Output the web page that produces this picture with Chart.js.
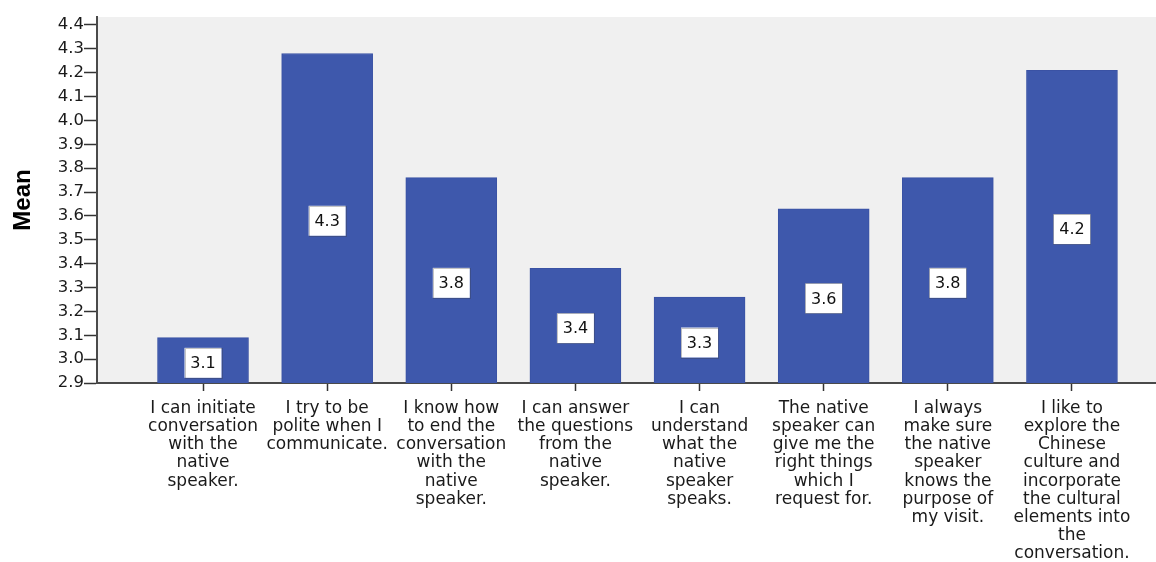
<!DOCTYPE html>
<html>
<head>
<meta charset="utf-8">
<script src="https://cdn.jsdelivr.net/npm/chart.js@4/dist/chart.umd.min.js"></script>
<style>
    html, body { margin: 0; padding: 0; background: #fff; }
    #wrap { width: 1156px; height: 562px; }
</style>
</head>
<body>
<div id="wrap"><canvas id="mean-chart"></canvas></div>
<script>
const categories = [
    ['I can initiate', 'conversation', 'with the', 'native', 'speaker.'],
    ['I try to be', 'polite when I', 'communicate.'],
    ['I know how', 'to end the', 'conversation', 'with the', 'native', 'speaker.'],
    ['I can answer', 'the questions', 'from the', 'native', 'speaker.'],
    ['I can', 'understand', 'what the', 'native', 'speaker', 'speaks.'],
    ['The native', 'speaker can', 'give me the', 'right things', 'which I', 'request for.'],
    ['I always', 'make sure', 'the native', 'speaker', 'knows the', 'purpose of', 'my visit.'],
    ['I like to', 'explore the', 'Chinese', 'culture and', 'incorporate', 'the cultural', 'elements into', 'the', 'conversation.']
];
const means = [3.09, 4.28, 3.76, 3.38, 3.26, 3.63, 3.76, 4.21];
const yTicks = [2.9, 3.0, 3.1, 3.2, 3.3, 3.4, 3.5, 3.6, 3.7, 3.8, 3.9, 4.0, 4.1, 4.2, 4.3, 4.4];

const FONT = "'DejaVu Sans', Verdana, sans-serif";

const plotBackground = {
    id: 'plotBackground',
    beforeDraw: function (chart) {
        const a = chart.chartArea;
        const ctx = chart.ctx;
        ctx.save();
        ctx.fillStyle = '#f0f0f0';
        ctx.fillRect(a.left, a.top, a.right - a.left, a.bottom - a.top);
        ctx.restore();
    }
};

// white value boxes in the middle of each bar
const valueBoxes = {
    id: 'valueBoxes',
    afterDatasetsDraw: function (chart) {
        const ctx = chart.ctx;
        const xs = chart.scales.x;
        const ys = chart.scales.y;
        const base = ys.getPixelForValue(ys.min);
        ctx.save();
        ctx.font = '16px ' + FONT;
        ctx.textAlign = 'center';
        ctx.textBaseline = 'middle';
        means.forEach(function (v, i) {
            const text = v.toFixed(1);
            const cx = xs.getPixelForValue(i);
            const cy = (ys.getPixelForValue(v) + base) / 2 + 2.5;
            const w = 37;
            const h = 30;
            ctx.fillStyle = '#ffffff';
            ctx.fillRect(cx - w / 2, cy - h / 2, w, h);
            ctx.strokeStyle = 'rgba(60,60,60,0.3)';
            ctx.lineWidth = 1;
            ctx.strokeRect(Math.round(cx - w / 2) + 0.5, Math.round(cy - h / 2) + 0.5, w, h);
            ctx.fillStyle = '#111';
            ctx.fillText(text, cx, cy + 1);
        });
        ctx.restore();
    }
};

new Chart(document.getElementById('mean-chart').getContext('2d'), {
    type: 'bar',
    plugins: [plotBackground, valueBoxes],
    data: {
        datasets: [{
            data: means.map((v, i) => ({ x: i, y: v })),
            backgroundColor: '#3e58ac',
            borderColor: '#3a52a4',
            borderWidth: 1,
            barThickness: 91
        }]
    },
    options: {
        responsive: true,
        maintainAspectRatio: false,
        animation: false,
        layout: { padding: { top: 17, right: 0, left: 0, bottom: 0 } },
        plugins: {
            legend: { display: false },
            title: { display: false },
            tooltip: { enabled: false }
        },
        scales: {
            x: {
                type: 'linear',
                offset: false,
                min: -0.854,
                max: 7.677,
                afterBuildTicks: function (scale) {
                    scale.ticks = categories.map((c, i) => ({ value: i }));
                },
                afterFit: function (scale) {
                    scale.height = 179;
                },
                border: { color: '#4a4a4a', width: 2 },
                grid: {
                    offset: false,
                    drawOnChartArea: false,
                    drawTicks: true,
                    tickLength: 8,
                    tickColor: '#333',
                    tickWidth: 1.5
                },
                ticks: {
                    autoSkip: false,
                    maxRotation: 0,
                    padding: 9,
                    color: '#1a1a1a',
                    font: { family: FONT, size: 17, lineHeight: 1.06 },
                    callback: function (value) {
                        return categories[value];
                    }
                }
            },
            y: {
                min: 2.9,
                max: 4.433,
                afterBuildTicks: function (scale) {
                    scale.ticks = yTicks.map(v => ({ value: v }));
                },
                afterFit: function (scale) {
                    scale.width = 97;
                },
                border: { color: '#4a4a4a', width: 2 },
                grid: {
                    drawOnChartArea: false,
                    tickLength: 13,
                    tickColor: '#333',
                    tickWidth: 1.5
                },
                ticks: {
                    padding: 0,
                    color: '#1a1a1a',
                    font: { family: FONT, size: 16.5 },
                    callback: function (value) {
                        return Number(value).toFixed(1);
                    }
                },
                title: {
                    display: true,
                    text: 'Mean',
                    color: '#000',
                    padding: { top: 9, bottom: 0 },
                    font: { family: "'Liberation Sans', Arial, sans-serif", size: 24, weight: 'bold' }
                }
            }
        }
    }
});
</script>
</body>
</html>
